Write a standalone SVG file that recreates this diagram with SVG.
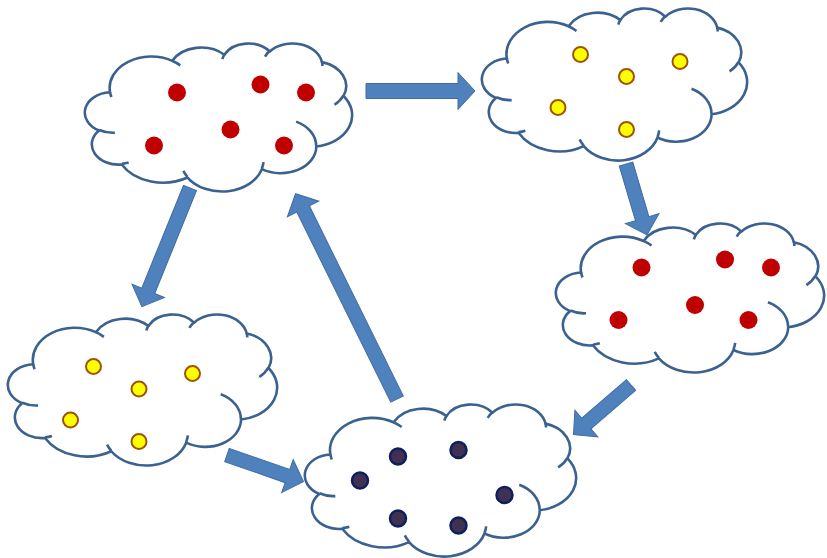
<svg xmlns="http://www.w3.org/2000/svg" xmlns:xlink="http://www.w3.org/1999/xlink" width="827" height="558" viewBox="0 0 827 558">
  <style>
    .cloud-body { fill: #ffffff; stroke: #3A6190; stroke-width: 2.6; stroke-linejoin: round; }
    .cloud-line { fill: none; stroke: #3A6190; stroke-width: 2.6; stroke-linecap: butt; }
    .arrow { fill: #4F81BD; stroke: #3F6CA3; stroke-width: 1; stroke-linejoin: miter; }
    .red { fill: #C00000; }
    .yellow { fill: #FFFF00; stroke: #A0520A; stroke-width: 2; }
    .dark { fill: #403152; stroke: #0E1F5B; stroke-width: 2.5; }
  </style>
  <defs>
    <!-- cloud outline in a 100 x 100 box, scaled per node -->
    <g id="cloud">
      <path class="cloud-body" vector-effect="non-scaling-stroke" d="M9.03,33.26 A15.63,21.27 0 0 1 32.42,12.04 A12.34,16.82 0 0 1 51.99,7.95 A10.10,13.76 0 0 1 69.06,5.75 A11.24,15.27 0 0 1 88.71,12.91 A12.34,16.84 0 0 1 96.81,35.79 A15.68,21.34 0 0 1 86.59,69.92 A13.39,18.21 0 0 1 66.11,85.22 A15.63,21.33 0 0 1 38.16,90.90 A17.87,24.41 0 0 1 13.44,82.11 A10.09,13.70 0 0 1 4.90,59.15 A10.06,13.76 0 0 1 9.03,33.26 Z"/>
      <path class="cloud-line" vector-effect="non-scaling-stroke" d="M10.86,60.59 A10.06,13.76 0 0 1 5.00,58.75 M16.04,80.78 A10.09,13.70 0 0 1 13.47,81.67 M38.14,90.49 A15.63,21.33 0 0 1 36.59,86.45 M66.73,80.44 A15.63,21.33 0 0 1 66.11,84.86 M79.00,53.13 A13.39,18.21 0 0 1 86.53,69.65 M96.75,35.54 A12.34,16.84 0 0 1 93.40,41.74 M88.71,12.56 A11.24,15.27 0 0 1 88.89,15.49 M67.31,9.15 A11.24,15.27 0 0 1 69.03,5.41 M51.25,10.93 A10.10,13.76 0 0 1 52.08,7.71 M32.41,12.02 A15.63,21.27 0 0 1 35.42,15.14 M9.55,36.55 A15.63,21.27 0 0 1 9.03,33.27"/>
    </g>
  </defs>

  <!-- top-left: red particles -->
  <g id="cloud-red-top">
    <use xlink:href="#cloud" transform="translate(86,43) scale(2.66,1.48)"/>
    <circle class="red" cx="177" cy="92.5" r="9"/>
    <circle class="red" cx="260.5" cy="84.5" r="9"/>
    <circle class="red" cx="306" cy="92.5" r="9"/>
    <circle class="red" cx="154" cy="145.5" r="9"/>
    <circle class="red" cx="230.5" cy="129.5" r="9"/>
    <circle class="red" cx="284" cy="145.5" r="9"/>
  </g>

  <!-- top-right: yellow particles -->
  <g id="cloud-yellow-top">
    <use xlink:href="#cloud" transform="translate(483,8) scale(2.64,1.52)"/>
    <circle class="yellow" cx="580.5" cy="54.5" r="7.5"/>
    <circle class="yellow" cx="680" cy="61.5" r="7.5"/>
    <circle class="yellow" cx="626.5" cy="76.5" r="7.5"/>
    <circle class="yellow" cx="558" cy="107.5" r="7.5"/>
    <circle class="yellow" cx="626.5" cy="129.5" r="7.5"/>
  </g>

  <!-- right: red particles -->
  <g id="cloud-red-right">
    <use xlink:href="#cloud" transform="translate(557,223) scale(2.67,1.49)"/>
    <circle class="red" cx="641.5" cy="267.5" r="9"/>
    <circle class="red" cx="725" cy="259.5" r="9"/>
    <circle class="red" cx="771" cy="267.5" r="9"/>
    <circle class="red" cx="695" cy="305" r="9"/>
    <circle class="red" cx="618.5" cy="320" r="9"/>
    <circle class="red" cx="748.5" cy="320" r="9"/>
  </g>

  <!-- bottom-left: yellow particles -->
  <g id="cloud-yellow-bottom">
    <use xlink:href="#cloud" transform="translate(9,314) scale(2.68,1.51)"/>
    <circle class="yellow" cx="93.5" cy="366.5" r="7.5"/>
    <circle class="yellow" cx="192.5" cy="373.5" r="7.5"/>
    <circle class="yellow" cx="139" cy="389" r="7.5"/>
    <circle class="yellow" cx="70.5" cy="420" r="7.5"/>
    <circle class="yellow" cx="139" cy="441.5" r="7.5"/>
  </g>

  <!-- bottom-centre: dark particles -->
  <g id="cloud-dark">
    <use xlink:href="#cloud" transform="translate(306,404) scale(2.70,1.52)"/>
    <circle class="dark" cx="398" cy="456.5" r="8"/>
    <circle class="dark" cx="458.5" cy="450" r="8"/>
    <circle class="dark" cx="360" cy="480.5" r="8"/>
    <circle class="dark" cx="504.5" cy="495" r="8"/>
    <circle class="dark" cx="398" cy="518.5" r="8"/>
    <circle class="dark" cx="458.5" cy="525.5" r="8"/>
  </g>

  <!-- block arrows between the clouds -->
  <g id="connectors">
    <path class="arrow" transform="translate(366,91) rotate(0)" d="M0,-7.5 L92,-7.5 L92,-18.5 L109,0 L92,18.5 L92,7.5 L0,7.5 Z"/>
    <path class="arrow" transform="translate(626,164) rotate(73.5)" d="M0,-7 L57,-7 L57,-17.5 L74,0 L57,17.5 L57,7 L0,7 Z"/>
    <path class="arrow" transform="translate(631,385) rotate(139.2)" d="M0,-7 L59,-7 L59,-17.5 L76,0 L59,17.5 L59,7 L0,7 Z"/>
    <path class="arrow" transform="translate(190,188) rotate(112.1)" d="M0,-7 L111,-7 L111,-17.5 L128,0 L111,17.5 L111,7 L0,7 Z"/>
    <path class="arrow" transform="translate(227,455) rotate(19.2)" d="M0,-7 L64,-7 L64,-17.5 L81,0 L64,17.5 L64,7 L0,7 Z"/>
    <path class="arrow" transform="translate(397,399) rotate(-116.3)" d="M0,-7 L212,-7 L212,-17.5 L229,0 L212,17.5 L212,7 L0,7 Z"/>
  </g>
</svg>
